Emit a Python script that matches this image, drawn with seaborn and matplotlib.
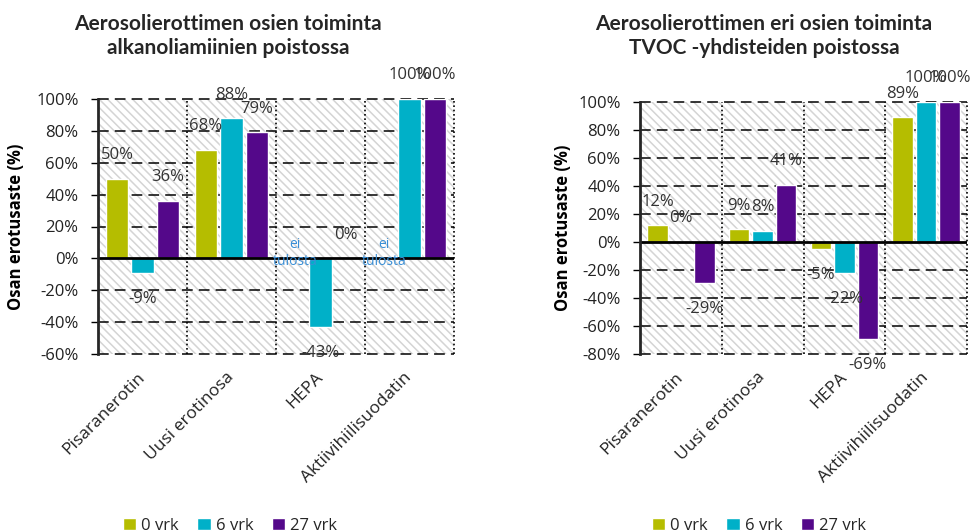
import numpy as np
import pandas as pd
import matplotlib
matplotlib.use("Agg")
import matplotlib.pyplot as plt
from matplotlib.patches import Patch, Rectangle
from matplotlib.ticker import PercentFormatter
import seaborn as sns

categories = ["Pisaranerotin", "Uusi erotinosa", "HEPA", "Aktiivihiilisuodatin"]
series = ["0 vrk", "6 vrk", "27 vrk"]
colors = ["#b5bd00", "#00b0c8", "#54088a"]

# alkanoliamiinit (left chart), NaN = ei tulosta
alk_0 = [50, 68, np.nan, np.nan]
alk_6 = [-9, 88, -43, 100]
alk_27 = [36, 79, 0, 100]

# TVOC (right chart)
tvoc_0 = [12, 9, -5, 89]
tvoc_6 = [0, 8, -22, 100]
tvoc_27 = [-29, 41, -69, 100]

titles = ["Aerosolierottimen osien toiminta\nalkanoliamiinien poistossa",
          "Aerosolierottimen eri osien toiminta\nTVOC -yhdisteiden poistossa"]

sns.set_style("white")
plt.rcParams["font.family"] = ["Open Sans", "DejaVu Sans"]
plt.rcParams["axes.unicode_minus"] = False
plt.rcParams["hatch.color"] = "#d4d4d4"
plt.rcParams["hatch.linewidth"] = 1.1

W, H = 976, 532
fig = plt.figure(figsize=(W / 100, H / 100), dpi=100)


def long_df(v0, v6, v27):
    rows = []
    for s, vals in zip(series, [v0, v6, v27]):
        for c, v in zip(categories, vals):
            rows.append({"osa": c, "sarja": s, "arvo": v})
    return pd.DataFrame(rows)


def draw(rect, df, ylim, title, title_x, legend_x, ylabel_x):
    ax = fig.add_axes(rect)
    ax.add_patch(Rectangle((0, 0), 1, 1, transform=ax.transAxes, facecolor="white",
                           hatch="\\\\\\\\", edgecolor="#d4d4d4", linewidth=0, zorder=0))
    width = 0.86
    sns.barplot(data=df, x="osa", y="arvo", hue="sarja", order=categories,
                hue_order=series, palette=colors, width=width, gap=0.13,
                saturation=1, errorbar=None, legend=False, ax=ax, zorder=2)
    ax.set_xlim(-0.5, 3.5)
    ax.set_ylim(*ylim)
    ax.set_yticks(np.arange(ylim[0], ylim[1] + 1, 20))
    ax.yaxis.set_major_formatter(PercentFormatter(decimals=0))
    for y in ax.get_yticks():
        if y != 0:
            ax.axhline(y, color="black", lw=1.1, ls=(0, (7, 4)), zorder=1, clip_on=False)
    for x in [0.5, 1.5, 2.5, 3.5]:
        ax.axvline(x, color="black", lw=1.2, ls=(0, (1, 1.6)), zorder=1, clip_on=False)
    ax.axhline(0, color="black", lw=2, zorder=3)
    for s in ["top", "right", "bottom"]:
        ax.spines[s].set_visible(False)
    ax.spines["left"].set_linewidth(2)
    ax.spines["left"].set_zorder(4)
    ax.tick_params(axis="y", length=5, width=1, color="black", pad=9,
                   labelsize=12, labelcolor="#222222", left=True)
    ax.tick_params(axis="x", length=0, pad=15, labelsize=12.5, labelcolor="#222222")
    plt.setp(ax.get_xticklabels(), rotation=45, ha="right", rotation_mode="anchor", va="center")
    ax.set_xlabel("")
    ax.set_ylabel("Osan erotusaste (%)", fontsize=12, fontweight="bold", color="black")
    ax.yaxis.set_label_coords(ylabel_x, 0.5)

    # data labels
    for cont in ax.containers:
        for bar in cont:
            h = bar.get_height()
            if np.isnan(h):
                continue
            x = bar.get_x() + bar.get_width() / 2
            ax.annotate(f"{h:.0f}%", xy=(x, h), xytext=(0, 17 if h >= 0 else -19),
                        textcoords="offset points", ha="center", va="center",
                        fontsize=12, color="#333333", zorder=5, annotation_clip=False)
    # missing values
    for j, s in enumerate(series):
        sub = df[df["sarja"] == s].reset_index(drop=True)
        for i, v in enumerate(sub["arvo"]):
            if np.isnan(v):
                x = i + (j - 1) * width / 3
                ax.annotate("ei\ntulosta", xy=(x, 0), xytext=(0, 4),
                            textcoords="offset points", ha="center", va="center",
                            fontsize=10, color="#3a8fd6", linespacing=1.2, zorder=5)

    fig.text(title_x / W, 1 - 36 / H, title, ha="center", va="center",
             fontsize=15, fontweight="bold", family=["Lato", "DejaVu Sans"],
             linespacing=1.2)
    handles = [Patch(facecolor=c) for c in colors]
    fig.legend(handles, series, loc="center", bbox_to_anchor=(legend_x / W, 0.012),
               ncol=3, frameon=False, fontsize=12, handlelength=0.8, handleheight=0.8,
               handletextpad=0.3, columnspacing=1.1)
    return ax


draw([98 / W, 178 / H, 356 / W, 255 / H], long_df(alk_0, alk_6, alk_27),
     (-60, 100), titles[0], 228, 230, -0.205)
draw([640 / W, 178 / H, 327 / W, 252 / H], long_df(tvoc_0, tvoc_6, tvoc_27),
     (-80, 100), titles[1], 764, 759, -0.208)

fig.savefig("out.png", dpi=100)
